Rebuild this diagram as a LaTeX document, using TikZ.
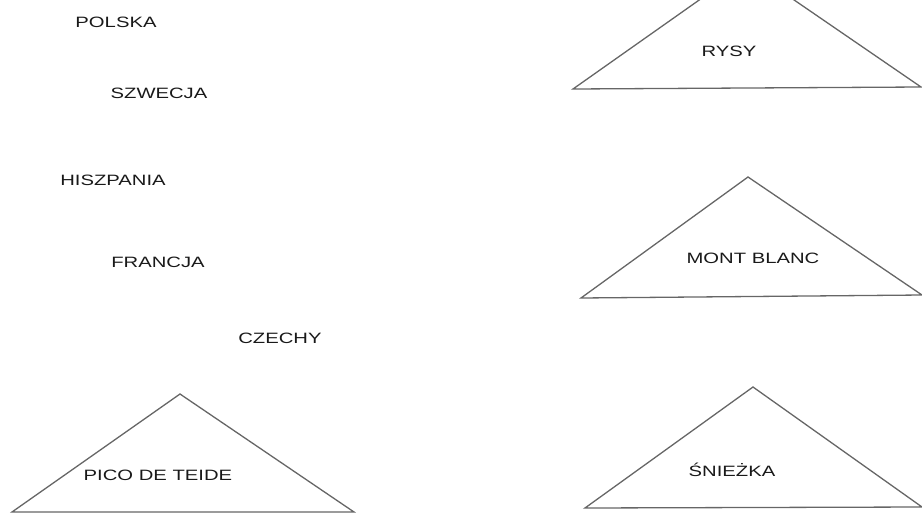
\documentclass[tikz,border=0pt]{standalone}
\usepackage{fontspec}
\newfontfamily\widesans[FakeStretch=1.35]{Liberation Sans}
\begin{document}
\begin{tikzpicture}[x=1pt,y=-1pt,
  lbl/.style={font=\widesans\fontsize{15}{17}\selectfont, text=black!90, inner sep=0pt},
  mountain/.style={draw=black!60, line width=1.3pt, line join=miter}]
\useasboundingbox (0,0) rectangle (922,512);
\clip (0,0) rectangle (922,512);
% triangle vertices
\coordinate (rA) at (746,-33);  \coordinate (rL) at (573,89);  \coordinate (rR) at (921,87);
\coordinate (mA) at (748,177);  \coordinate (mL) at (581,298); \coordinate (mR) at (922,295);
\coordinate (sA) at (753,387);  \coordinate (sL) at (585,508); \coordinate (sR) at (922,507);
\coordinate (pA) at (180,394);  \coordinate (pL) at (12,512);  \coordinate (pR) at (354,512);
\draw[mountain] (rA) -- (rL) -- (rR) -- cycle;
\draw[mountain] (mA) -- (mL) -- (mR) -- cycle;
\draw[mountain] (sA) -- (sL) -- (sR) -- cycle;
\draw[mountain] (pA) -- (pL) -- (pR) -- cycle;
% labels
\node[lbl] (polska) at (116,22) {POLSKA};
\node[lbl] (szwecja) at (159,93) {SZWECJA};
\node[lbl] (hiszpania) at (113,180) {HISZPANIA};
\node[lbl] (francja) at (158,262) {FRANCJA};
\node[lbl] (czechy) at (280,338) {CZECHY};
\node[lbl] (rysy) at (729,51) {RYSY};
\node[lbl] (montblanc) at (753,258) {MONT BLANC};
\node[lbl] (sniezka) at (732,470) {ŚNIEŻKA};
\node[lbl] (pico) at (158,475) {PICO DE TEIDE};
\end{tikzpicture}
\end{document}
